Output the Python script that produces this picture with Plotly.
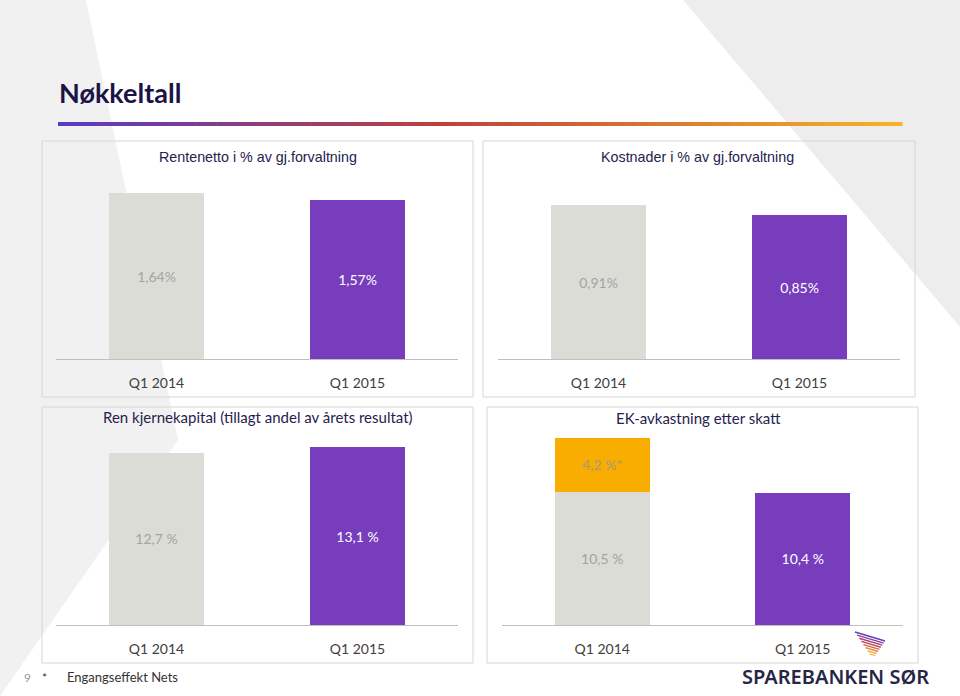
import plotly.graph_objects as go

# ---------------- data ----------------
categories = ["Q1 2014", "Q1 2015"]
rentenetto = [1.64, 1.57]          # Rentenetto i % av gj.forvaltning
kostnader = [0.91, 0.85]           # Kostnader i % av gj.forvaltning
kjernekapital = [12.7, 13.1]       # Ren kjernekapital
ek_avkastning = [10.5, 10.4]       # EK-avkastning etter skatt
ek_engangseffekt = [4.2, None]     # Engangseffekt Nets

panel_titles = [
    "Rentenetto i % av gj.forvaltning",
    "Kostnader i % av gj.forvaltning",
    "Ren kjernekapital (tillagt andel av årets resultat)",
    "EK-avkastning etter skatt",
]

# ---------------- style ----------------
W, H = 960, 696
GRAY = "#dcdcd7"
PURPLE = "#773dbd"
ORANGE = "#f9ad00"
GRAY_TXT = "#a3a3a3"
TITLE_C = "#26224e"
TICK_C = "#404040"
BODY_FONT = "Lato"


def px(x):
    return x / W


def py(y):
    return 1 - y / H


def fmt2(v):
    return f"{v:.2f}".replace(".", ",") + "%"


def fmt1(v, suffix=""):
    return f"{v:.1f}".replace(".", ",") + " %" + suffix


fig = go.Figure()

bar_colors = [GRAY, PURPLE]
text_colors = [GRAY_TXT, "white"]
bw = 0.473

# panel geometry: (x0, x1, ytop, ybottom, ymax)
panels = [
    (56, 458, 170, 359, 1.868),
    (498, 900, 170, 359, 1.118),
    (56, 458, 430, 625, 14.37),
    (502, 903, 430, 625, 15.35),
]

series = [
    [fmt2(v) for v in rentenetto],
    [fmt2(v) for v in kostnader],
    [fmt1(v) for v in kjernekapital],
    [fmt1(v) for v in ek_avkastning],
]
values = [rentenetto, kostnader, kjernekapital, ek_avkastning]

for i, (vals, txt) in enumerate(zip(values, series)):
    n = "" if i == 0 else str(i + 1)
    fig.add_trace(go.Bar(
        x=categories, y=vals, text=txt,
        marker=dict(color=bar_colors, line=dict(width=0)),
        width=bw, textposition="inside", insidetextanchor="middle",
        textfont=dict(family=BODY_FONT, size=14, color=text_colors),
        xaxis="x" + n, yaxis="y" + n, showlegend=False, hoverinfo="skip",
    ))

fig.add_trace(go.Bar(
    x=categories, y=ek_engangseffekt,
    text=[fmt1(v, "*") if v is not None else "" for v in ek_engangseffekt],
    marker=dict(color=ORANGE, line=dict(width=0)),
    width=bw, textposition="inside", insidetextanchor="middle",
    textfont=dict(family=BODY_FONT, size=14, color="#a89a7a"),
    xaxis="x4", yaxis="y4", showlegend=False, hoverinfo="skip",
))

layout = dict(
    width=W, height=H, margin=dict(l=0, r=0, t=0, b=0),
    paper_bgcolor="white", plot_bgcolor="rgba(0,0,0,0)",
    barmode="stack", showlegend=False,
)
for i, (x0, x1, yt, yb, ymax) in enumerate(panels):
    n = "" if i == 0 else str(i + 1)
    layout["xaxis" + n] = dict(
        domain=[px(x0), px(x1)], anchor="y" + n,
        showline=True, linecolor="#bfbfbf", linewidth=1,
        showgrid=False, zeroline=False,
        ticks="outside", ticklen=11, tickcolor="rgba(0,0,0,0)",
        tickfont=dict(family=BODY_FONT, size=14, color=TICK_C),
        range=[-0.5, 1.5], fixedrange=True,
    )
    layout["yaxis" + n] = dict(
        domain=[py(yb), py(yt)], anchor="x" + n,
        range=[0, ymax], visible=False, fixedrange=True,
    )
fig.update_layout(**layout)

shapes = []
# background grey shapes
shapes.append(dict(type="path", xref="paper", yref="paper", layer="below",
                   path=f"M 0 {py(0)} L {px(86)} {py(0)} L {px(178)} {py(440)} L 0 {py(696)} Z",
                   fillcolor="#f1f1f1", line=dict(width=0)))
shapes.append(dict(type="path", xref="paper", yref="paper", layer="below",
                   path=f"M {px(683)} {py(0)} L 1 {py(0)} L 1 {py(327)} Z",
                   fillcolor="#ededed", line=dict(width=0)))
# panel borders
for (bx0, by0, bx1, by1) in [(42, 141, 473, 397), (483, 141, 915, 397),
                             (42, 407, 473, 663), (487, 407, 918, 663)]:
    shapes.append(dict(type="rect", xref="paper", yref="paper", layer="below",
                       x0=px(bx0), x1=px(bx1), y0=py(by1), y1=py(by0),
                       line=dict(color="#d6d6d6", width=1), fillcolor="rgba(0,0,0,0)"))


def lerp_col(stops, t):
    for (t0, c0), (t1, c1) in zip(stops, stops[1:]):
        if t0 <= t <= t1:
            f = (t - t0) / (t1 - t0) if t1 > t0 else 0
            c = [round(a + (b - a) * f) for a, b in zip(c0, c1)]
            return f"rgb({c[0]},{c[1]},{c[2]})"
    c = stops[-1][1]
    return f"rgb({c[0]},{c[1]},{c[2]})"


grad = [(0.0, (88, 58, 200)), (0.45, (190, 64, 60)), (1.0, (247, 180, 38))]
N = 80
gx0, gx1 = 58, 902
for k in range(N):
    a = gx0 + (gx1 - gx0) * k / N
    b = gx0 + (gx1 - gx0) * (k + 1) / N + 0.6
    shapes.append(dict(type="rect", xref="paper", yref="paper",
                       x0=px(a), x1=px(b), y0=py(126), y1=py(122),
                       fillcolor=lerp_col(grad, (k + 0.5) / N), line=dict(width=0)))

# logo icon stripes
logo_grad = [(0.0, (96, 60, 196)), (0.45, (205, 70, 70)), (1.0, (248, 195, 60))]
K = 8
for k in range(K):
    t = k / (K + 0.6)
    sx, sy = 855 + (873 - 855) * t, 632 + (659 - 632) * t
    ex, ey = 885 + (873 - 885) * t, 641 + (659 - 641) * t
    shapes.append(dict(type="line", xref="paper", yref="paper",
                       x0=px(sx), y0=py(sy), x1=px(ex), y1=py(ey),
                       line=dict(color=lerp_col(logo_grad, k / (K - 1)), width=1.4)))
fig.update_layout(shapes=shapes)

ann = []
ann.append(dict(text="<b>Nøkkeltall</b>", x=px(57), y=py(93), xref="paper", yref="paper",
                xanchor="left", yanchor="middle", showarrow=False,
                font=dict(family=BODY_FONT, size=27, color="#1b1446")))
title_pos = [(258, 157, "Liberation Sans", 14.3), (697, 157, "Liberation Sans", 14.3),
             (258, 417, BODY_FONT, 15), (698, 418, BODY_FONT, 15)]
for t, (cx, cy, fam, sz) in zip(panel_titles, title_pos):
    ann.append(dict(text=t, x=px(cx), y=py(cy), xref="paper", yref="paper",
                    xanchor="center", yanchor="middle", showarrow=False,
                    font=dict(family=fam, size=sz, color=TITLE_C)))
ann.append(dict(text="9", x=px(27), y=py(677), xref="paper", yref="paper",
                xanchor="center", yanchor="middle", showarrow=False,
                font=dict(family=BODY_FONT, size=12, color="#999999")))
ann.append(dict(text="*", x=px(44), y=py(677), xref="paper", yref="paper",
                xanchor="center", yanchor="middle", showarrow=False,
                font=dict(family=BODY_FONT, size=12, color="#333333")))
ann.append(dict(text="Engangseffekt Nets", x=px(65), y=py(677), xref="paper", yref="paper",
                xanchor="left", yanchor="middle", showarrow=False,
                font=dict(family=BODY_FONT, size=13, color="#333333")))
ann.append(dict(text="SPAREBANKEN SØR", x=px(835), y=py(676), xref="paper", yref="paper",
                xanchor="center", yanchor="middle", showarrow=False,
                font=dict(family="Noto Sans", size=20, color="#262646", weight=600)))
fig.update_layout(annotations=ann)

fig.write_html("out.html")
